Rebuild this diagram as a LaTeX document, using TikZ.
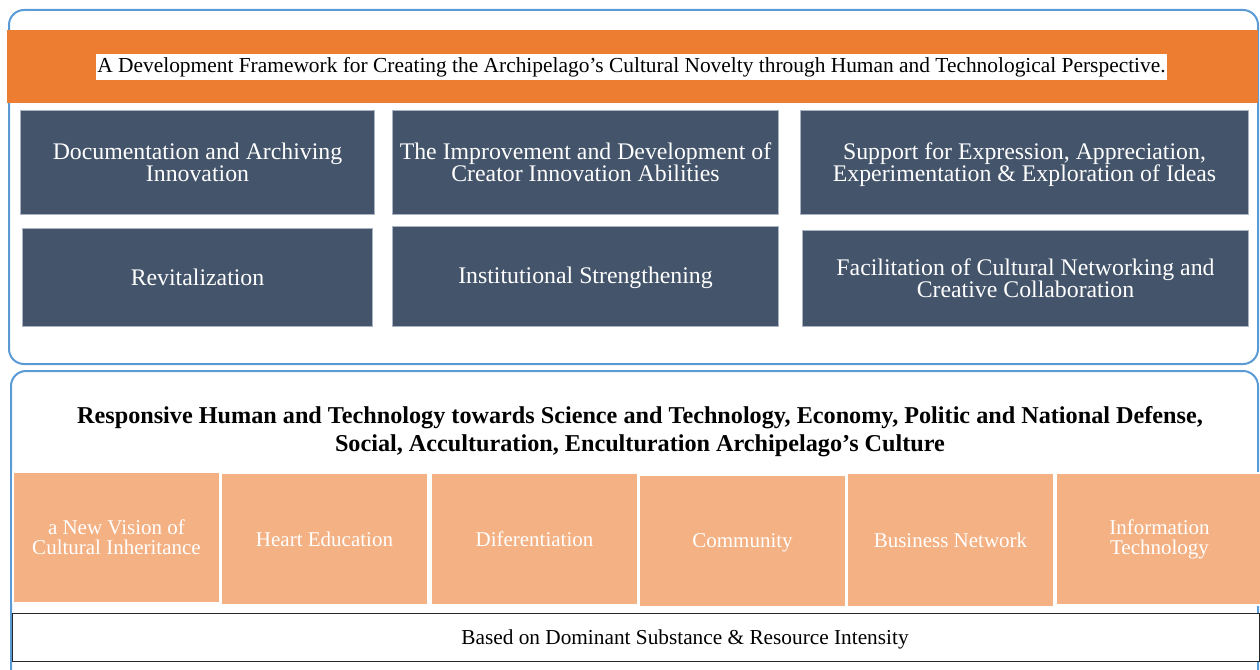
\documentclass[tikz,border=0pt]{standalone}
\usepackage{fontspec}
\setmainfont{Liberation Serif}
\definecolor{frameblue}{HTML}{5B9BD5}
\definecolor{bandorange}{HTML}{ED7D31}
\definecolor{slate}{HTML}{44546A}
\definecolor{slateedge}{HTML}{A9B3C1}
\definecolor{peach}{HTML}{F4B183}
\tikzset{
  frame/.style={draw=frameblue, line width=2pt, rounded corners=15pt},
  darkbox/.style={draw=slateedge, fill=slate, line width=1pt, text=white, align=center,
    inner sep=0pt, anchor=north west, font=\fontsize{23.8}{22}\selectfont},
  peachbox/.style={draw=white, fill=peach, line width=2pt, text=white, align=center,
    inner sep=0pt, outer sep=0pt, anchor=north west, font=\fontsize{21}{20}\selectfont},
}
\begin{document}
\begin{tikzpicture}[x=1pt,y=-1pt]
\useasboundingbox (0,0) rectangle (1260,669);
% top frame
\draw[frame] (9,10) rectangle (1258,364);
\node[fill=bandorange, minimum width=1251pt, minimum height=73pt, inner sep=0pt, anchor=north west] (band) at (7,30) {};
\node[fill=white, inner xsep=1pt, inner ysep=3pt, font=\fontsize{21.4}{22}\selectfont] (title) at (631.5,67) {A Development Framework for Creating the Archipelago’s Cultural Novelty through Human and Technological Perspective.};
\node[darkbox, minimum width=354pt, minimum height=104pt] (d1) at (20,110) {Documentation and Archiving\\Innovation};
\node[darkbox, minimum width=386pt, minimum height=104pt] (d2) at (392,110) {The Improvement and Development of\\Creator Innovation Abilities};
\node[darkbox, minimum width=448pt, minimum height=104pt] (d3) at (800,110) {\rule{0pt}{21pt}Support for Expression, Appreciation,\\Experimentation \& Exploration of Ideas};
\node[darkbox, minimum width=350pt, minimum height=98pt] (d4) at (22,228) {Revitalization};
\node[darkbox, minimum width=386pt, minimum height=100pt] (d5) at (392,226) {\rule{0pt}{20pt}Institutional Strengthening};
\node[darkbox, minimum width=446pt, minimum height=96pt] (d6) at (802,230) {Facilitation of Cultural Networking and\\Creative Collaboration};
% bottom frame
\draw[frame] (11,371) rectangle (1258,700);
\node[font=\bfseries\fontsize{24.2}{28}\selectfont, align=center] (resp) at (640,432) {Responsive Human and Technology towards Science and Technology, Economy, Politic and National Defense,\\Social, Acculturation, Enculturation Archipelago’s Culture};
\node[peachbox, minimum width=207pt, minimum height=131pt] (p1) at (13,472) {a New Vision of\\Cultural Inheritance};
\node[peachbox, minimum width=207pt, minimum height=132pt] (p2) at (221,473) {Heart Education};
\node[peachbox, minimum width=207pt, minimum height=132pt] (p3) at (431,473) {Diferentiation};
\node[peachbox, minimum width=207pt, minimum height=132pt] (p4) at (639,475) {\rule{0pt}{18pt}Community};
\node[peachbox, minimum width=207pt, minimum height=134pt] (p5) at (847,473) {Business Network};
\node[peachbox, minimum width=207pt, minimum height=132pt] (p6) at (1056,473) {Information\\Technology};
\node[draw=black!85, line width=1pt, fill=white, minimum width=1247pt, minimum height=48pt, inner sep=0pt, anchor=north west, font=\fontsize{21.3}{20}\selectfont] (base) at (12,613) {\hspace*{98pt}\rule{0pt}{19pt}Based on Dominant Substance \& Resource Intensity};
\end{tikzpicture}
\end{document}
